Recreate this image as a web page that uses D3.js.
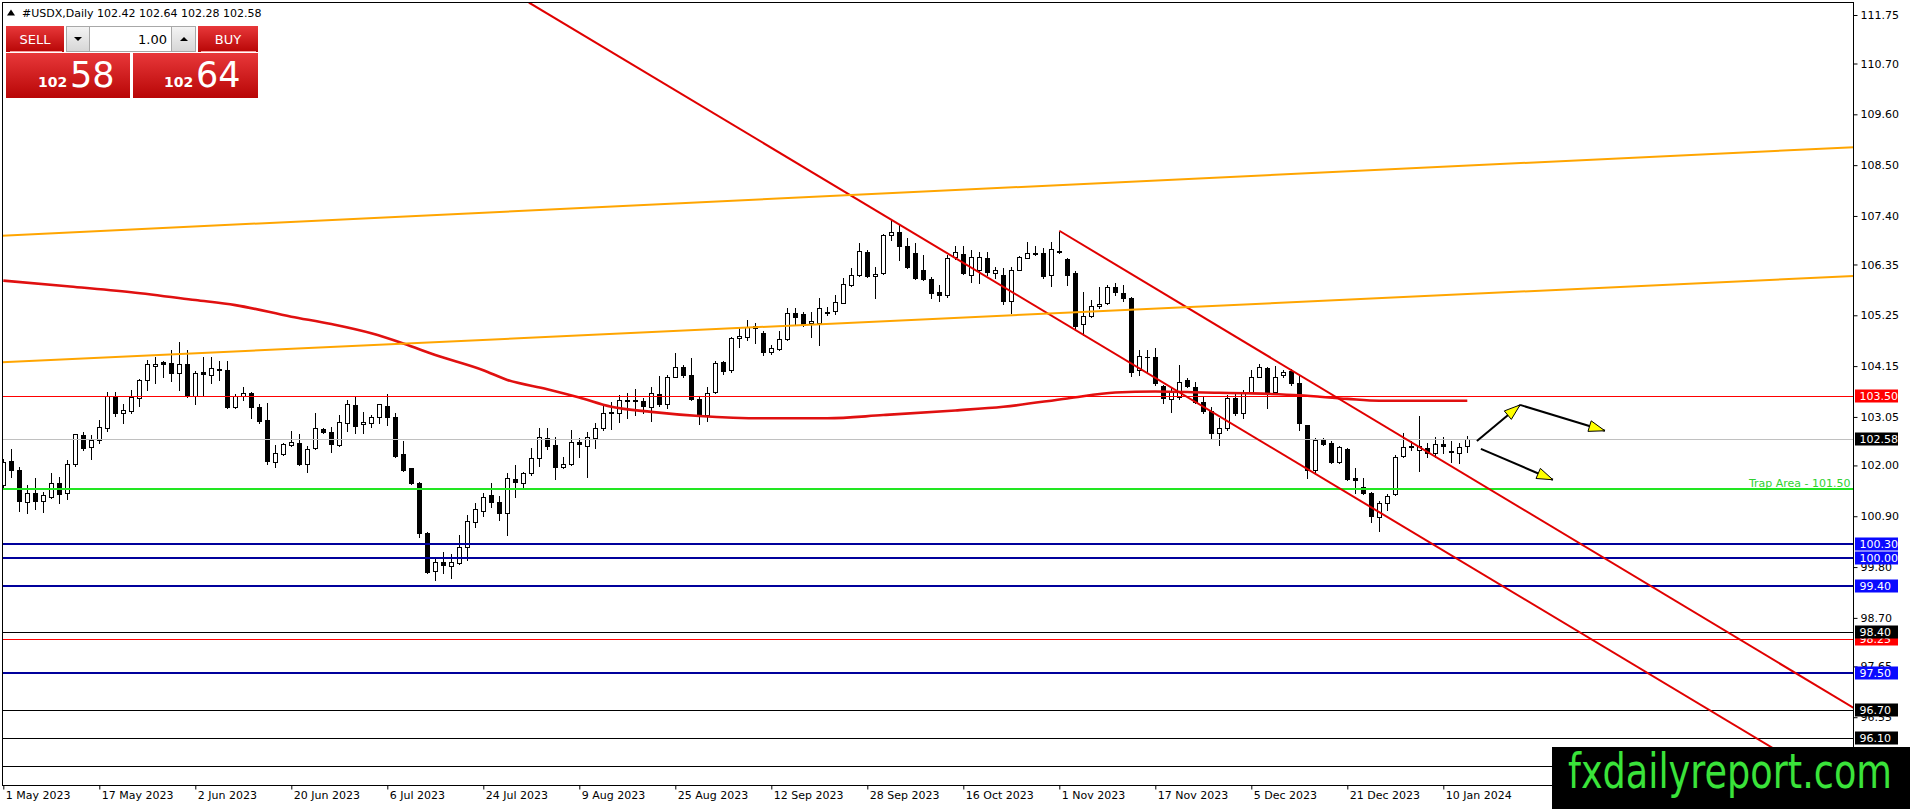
<!DOCTYPE html>
<html><head><meta charset="utf-8">
<script src="https://cdnjs.cloudflare.com/ajax/libs/d3/7.8.5/d3.min.js"></script>
<style>
html,body{margin:0;padding:0;background:#fff;overflow:hidden}
svg{display:block}
text{font-family:"DejaVu Sans",sans-serif}
</style></head><body>
<svg id="chart" width="1910" height="809"></svg>
<script>
// ---------------- DATA ----------------
const symbolTitle = "#USDX,Daily";
const lastQuote = [102.42, 102.64, 102.28, 102.58];
const lotSize = "1.00";
const bidParts = ["102", "58"];
const askParts = ["102", "64"];
const firstDate = "2023-05-01";
const closedDays = ["2023-12-25", "2024-01-01"];

const opens = [101.58,102.10,101.90,101.20,101.41,101.22,101.32,101.63,101.40,102.03,102.66,102.39,102.56,102.80,103.50,103.14,103.18,103.47,103.85,104.16,
104.24,104.22,104.01,104.19,103.51,104.03,103.96,104.09,104.07,103.27,103.50,103.57,103.26,102.98,102.08,102.24,102.44,102.48,102.04,102.37,
102.78,102.73,102.44,102.92,103.31,102.89,102.92,103.04,103.29,103.05,102.25,101.94,101.63,100.53,99.72,99.90,99.83,99.89,100.24,100.77,
101.02,101.36,101.21,100.96,101.71,101.63,101.83,102.17,102.60,102.44,101.96,102.03,102.50,102.43,102.59,102.80,103.13,103.14,103.39,103.41,
103.40,103.27,103.55,103.33,103.92,104.12,103.96,103.43,103.09,103.59,104.24,104.06,104.75,104.77,104.98,104.87,104.46,104.51,104.73,105.29,
105.28,105.08,105.08,105.29,105.35,105.52,105.91,106.12,106.63,106.10,106.16,106.99,107.05,106.74,106.59,106.22,106.04,105.75,105.69,106.52,
106.58,106.12,106.23,106.50,106.17,106.12,105.55,106.23,106.50,106.57,106.59,106.12,106.64,106.46,106.16,105.06,105.23,105.45,105.51,105.86,
105.74,105.62,104.07,104.34,104.34,103.71,103.44,103.49,103.85,103.69,103.38,103.17,102.70,102.80,103.45,103.14,103.60,103.92,104.10,103.60,
103.96,104.05,103.78,102.88,101.90,102.57,102.48,102.08,102.35,101.72,101.54,101.41,100.89,101.18,101.38,102.20,102.40,102.34,102.37,102.26,
102.46,102.30,102.26,102.42];
const highs = [102.15,102.35,101.97,101.58,101.72,101.43,101.83,101.76,102.12,102.69,102.73,102.66,102.98,103.60,103.60,103.34,103.63,103.88,104.28,104.35,
104.27,104.50,104.68,104.50,104.05,104.35,104.35,104.25,104.25,103.55,103.70,103.60,103.34,103.36,102.44,102.49,102.74,102.67,102.41,103.13,
102.80,102.84,103.09,103.42,103.49,103.16,103.09,103.34,103.54,103.14,102.53,101.95,101.64,100.55,99.97,100.13,100.08,100.49,100.93,101.18,
101.41,101.63,101.34,101.83,102.01,101.86,102.37,102.80,102.82,102.62,102.19,102.77,102.59,102.73,102.91,103.34,103.38,103.52,103.56,103.65,
103.45,103.70,103.94,103.96,104.43,104.17,104.32,103.49,103.69,104.27,104.25,104.77,104.97,105.15,105.08,104.92,104.61,104.90,105.40,105.40,
105.33,105.33,105.62,105.44,105.69,106.05,106.27,106.82,106.66,106.30,107.02,107.31,107.21,106.92,106.81,106.56,106.07,105.91,106.56,106.74,
106.74,106.66,106.61,106.63,106.30,106.27,106.30,106.53,106.84,106.74,106.70,106.84,107.06,106.48,106.20,105.76,105.58,105.87,105.91,105.94,
105.91,105.65,104.50,104.50,104.54,103.74,103.69,104.17,103.89,103.81,103.49,103.27,103.02,103.52,103.60,103.63,104.07,104.20,104.14,104.15,
104.07,104.08,103.96,102.88,102.59,102.59,102.52,102.42,102.37,101.94,101.72,101.43,101.22,101.38,102.23,102.70,102.52,103.06,102.49,102.61,
102.61,102.52,102.48,102.64];
const lows = [101.54,101.76,101.02,100.98,101.05,101.00,101.29,101.18,101.27,101.99,102.33,102.15,102.49,102.75,103.07,102.91,103.13,103.29,103.63,103.79,
103.92,103.83,103.63,103.49,103.33,103.52,103.78,103.85,103.24,103.24,103.42,103.02,102.91,102.03,101.96,102.23,102.41,102.01,101.86,102.35,
102.71,102.28,102.43,102.75,102.71,102.71,102.84,102.91,102.87,102.19,101.88,101.60,100.46,99.68,99.52,99.68,99.56,99.86,99.95,100.67,
100.90,101.11,100.82,100.49,101.32,101.50,101.79,101.99,102.35,101.70,101.94,102.01,102.19,101.74,102.37,102.77,102.78,102.95,103.02,103.09,
103.13,102.97,103.29,103.24,103.91,103.91,103.42,102.90,102.97,103.57,103.98,104.03,104.57,104.72,104.64,104.38,104.41,104.49,104.72,105.06,
105.02,104.77,104.61,105.26,105.28,105.51,105.88,106.10,106.07,105.62,106.14,106.87,106.45,106.27,106.03,106.01,105.62,105.55,105.65,106.46,
106.14,105.98,105.94,106.12,106.05,105.50,105.31,106.22,106.48,106.56,106.05,105.88,106.59,105.91,104.93,104.82,105.22,105.40,105.50,105.69,
105.55,103.94,103.96,104.03,103.74,103.35,103.15,103.43,103.69,103.35,103.13,102.57,102.44,102.77,103.09,103.02,103.56,103.91,103.24,103.56,
103.92,103.74,102.77,101.72,101.83,102.44,102.05,102.05,101.69,101.40,101.38,100.78,100.57,101.04,101.36,102.19,102.34,101.87,102.19,102.19,
102.26,102.08,102.05,102.28];
const closes = [102.07,101.90,101.22,101.40,101.24,101.36,101.61,101.38,102.04,102.67,102.38,102.56,102.84,103.50,103.14,103.21,103.49,103.86,104.19,104.19,
104.20,104.01,104.19,103.50,103.99,103.98,104.10,104.07,103.27,103.51,103.57,103.26,102.97,102.10,102.26,102.46,102.50,102.04,102.35,102.82,
102.73,102.46,102.95,103.33,102.86,102.93,103.05,103.32,103.05,102.20,101.90,101.61,100.54,99.70,99.92,99.84,99.90,100.23,100.80,101.05,
101.32,101.21,100.98,101.72,101.65,101.83,102.17,102.62,102.43,101.96,102.03,102.50,102.46,102.62,102.82,103.13,103.16,103.42,103.41,103.40,
103.29,103.56,103.34,103.92,104.14,103.96,103.43,103.11,103.57,104.21,104.05,104.75,104.80,105.00,105.02,104.46,104.54,104.73,105.29,105.22,
105.04,105.13,105.40,105.33,105.53,105.92,106.12,106.65,106.10,106.14,106.99,107.05,106.75,106.30,106.05,106.04,105.73,105.69,106.48,106.63,
106.16,106.52,106.52,106.19,106.23,105.55,106.23,106.52,106.59,106.59,106.10,106.68,106.61,106.12,105.02,105.24,105.46,105.50,105.86,105.76,
105.62,104.03,104.36,104.35,103.78,103.45,103.58,103.81,103.71,103.38,103.17,102.70,102.82,103.47,103.14,103.58,103.91,104.14,103.60,103.92,
104.03,103.78,102.91,101.90,102.55,102.46,102.08,102.39,101.70,101.69,101.41,100.91,101.18,101.34,102.19,102.39,102.41,102.41,102.26,102.46,
102.41,102.31,102.39,102.58];

// moving average read at these bar numbers
const maBars   = [0, 8, 16, 24, 29, 36, 41, 46, 50, 54, 60, 63, 68, 72, 76, 81, 87, 95, 103, 110, 119, 125, 133, 139, 144, 150, 156, 162, 168, 172, 183];
const maValues = [106.00,105.88,105.75,105.58,105.47,105.22,105.06,104.86,104.64,104.39,104.06,103.85,103.65,103.47,103.27,103.16,103.07,103.02,103.02,103.09,103.19,103.27,103.45,103.58,103.60,103.58,103.56,103.52,103.44,103.40,103.40];

const dateTickLabels = ["1 May 2023","17 May 2023","2 Jun 2023","20 Jun 2023","6 Jul 2023","24 Jul 2023","9 Aug 2023","25 Aug 2023",
  "12 Sep 2023","28 Sep 2023","16 Oct 2023","1 Nov 2023","17 Nov 2023","5 Dec 2023","21 Dec 2023","10 Jan 2024"];
const priceTicks = [111.75,110.70,109.60,108.50,107.40,106.35,105.25,104.15,103.05,102.00,100.90,99.80,98.70,97.65,96.55];

// horizontal levels
const levelPrices = [103.50, 102.58, 101.50, 100.30, 100.00, 99.40, 98.25, 98.40, 97.50, 96.70, 96.10, 95.50];
const levelKinds  = ["red","current","trap","blue","blue","blue","red","black","blue","black","black","plain"];
const trapLabel = "Trap Area - 101.50";

// trend lines: [bar, price] -> [bar, price]
const trendKinds = ["channel","channel","fan","fan"];
const trendStart = [[132, 107.08], [65.7, 112.02], [-0.4, 106.97], [-0.4, 104.23]];
const trendEnd   = [[231.3, 96.75], [235, 94.45], [231.3, 108.89], [231.3, 106.10]];

// arrows: [bar, price] -> [bar, price]
const arrowStart = [[184.2, 102.53], [189.6, 103.31], [184.7, 102.36]];
const arrowEnd   = [[189.6, 103.31], [200.2, 102.75], [193.7, 101.69]];

const watermark = "fxdailyreport.com";

// ---------------- BUILD ----------------
const W = 1910, H = 809;
const PL = 2.5, PT = 2.5, PR = 1853.5, PB = 785.5;
const N = opens.length;

// trading dates (weekdays minus closed days)
const fmtKey = d3.timeFormat("%Y-%m-%d");
const dates = [];
{
  let d = d3.timeParse("%Y-%m-%d")(firstDate);
  while (dates.length < N) {
    const wd = d.getDay();
    if (wd !== 0 && wd !== 6 && !closedDays.includes(fmtKey(d))) dates.push(fmtKey(d));
    d = d3.timeDay.offset(d, 1);
  }
}
const parseTick = d3.timeParse("%d %b %Y");
const tickIdx = dateTickLabels.map(s => dates.indexOf(fmtKey(parseTick(s))));

const barStep = 8;
const x = d3.scaleLinear().domain([0, N - 1]).range([3.3, 3.3 + barStep * (N - 1)]);
const y = d3.scaleLinear().domain([96.10, 111.75]).range([738, 15]);

const svg = d3.select("#chart");
const defs = svg.append("defs");
defs.append("clipPath").attr("id", "plotClip").append("rect")
  .attr("x", PL).attr("y", PT).attr("width", PR - PL).attr("height", PB - PT);
const gradR = defs.append("linearGradient").attr("id", "redGrad").attr("x1", 0).attr("y1", 0).attr("x2", 0).attr("y2", 1);
gradR.append("stop").attr("offset", "0%").attr("stop-color", "#e8383a");
gradR.append("stop").attr("offset", "100%").attr("stop-color", "#b80606");
const gradG = defs.append("linearGradient").attr("id", "grayGrad").attr("x1", 0).attr("y1", 0).attr("x2", 0).attr("y2", 1);
gradG.append("stop").attr("offset", "0%").attr("stop-color", "#f4f4f4");
gradG.append("stop").attr("offset", "100%").attr("stop-color", "#d6d6d6");

svg.append("rect").attr("width", W).attr("height", H).attr("fill", "#fff");

const plot = svg.append("g").attr("clip-path", "url(#plotClip)");

// candles
const candles = d3.range(N).map(i => ({ i, o: opens[i], h: highs[i], l: lows[i], c: closes[i] }));
const cx = d => Math.round(x(d.i));
plot.append("g").selectAll("line").data(candles).join("line")
  .attr("x1", d => cx(d) + 0.5).attr("x2", d => cx(d) + 0.5)
  .attr("y1", d => Math.round(y(d.h))).attr("y2", d => Math.round(y(d.l)) + 1)
  .attr("stroke", "#000").attr("stroke-width", 1);
plot.append("g").selectAll("rect").data(candles).join("rect")
  .attr("x", d => cx(d) - 1.5).attr("width", 4)
  .attr("y", d => Math.round(y(Math.max(d.o, d.c))) + 0.5)
  .attr("height", d => Math.max(0.01, Math.round(y(Math.min(d.o, d.c))) - Math.round(y(Math.max(d.o, d.c)))))
  .attr("fill", d => d.c >= d.o ? "#fff" : "#000")
  .attr("stroke", "#000").attr("stroke-width", 1);

// moving average
const maPts = maBars.map((b, k) => [b, maValues[k]]);
plot.append("path").datum(maPts)
  .attr("d", d3.line().x(d => x(d[0])).y(d => y(d[1])).curve(d3.curveMonotoneX))
  .attr("fill", "none").attr("stroke", "#e01010").attr("stroke-width", 2.6);

// horizontal levels
const levelStyle = {
  red:     { stroke: "#ff0000", w: 1, box: "#ff0000" },
  current: { stroke: "#c0c0c0", w: 1, box: "#000000" },
  trap:    { stroke: "#22e622", w: 2, box: null },
  blue:    { stroke: "#00009c", w: 2, box: "#0a0aff" },
  black:   { stroke: "#000000", w: 1, box: "#000000" },
  plain:   { stroke: "#000000", w: 1, box: null }
};
const levels = levelPrices.map((p, k) => ({ p, kind: levelKinds[k] }));
plot.append("g").selectAll("line").data(levels).join("line")
  .attr("x1", PL).attr("x2", PR)
  .attr("y1", d => { const v = Math.round(y(d.p)); return levelStyle[d.kind].w === 1 ? v + 0.5 : v; })
  .attr("y2", d => { const v = Math.round(y(d.p)); return levelStyle[d.kind].w === 1 ? v + 0.5 : v; })
  .attr("stroke", d => levelStyle[d.kind].stroke)
  .attr("stroke-width", d => levelStyle[d.kind].w);

// trap label
plot.append("text").attr("x", PR - 3).attr("y", Math.round(y(levelPrices[levelKinds.indexOf("trap")])) - 2)
  .attr("text-anchor", "end").attr("font-size", 11).attr("fill", "#30d030").text(trapLabel);

// trend lines
const trendStyle = { channel: { stroke: "#e00000", w: 2 }, fan: { stroke: "#ffa500", w: 2 } };
plot.append("g").selectAll("line").data(trendKinds.map((k, i) => ({ k, s: trendStart[i], e: trendEnd[i] }))).join("line")
  .attr("x1", d => x(d.s[0])).attr("y1", d => y(d.s[1]))
  .attr("x2", d => x(d.e[0])).attr("y2", d => y(d.e[1]))
  .attr("stroke", d => trendStyle[d.k].stroke).attr("stroke-width", d => trendStyle[d.k].w);

// arrows
const ga = plot.append("g");
arrowStart.forEach((s, k) => {
  const e = arrowEnd[k];
  const x1 = x(s[0]), y1 = y(s[1]), x2 = x(e[0]), y2 = y(e[1]);
  ga.append("line").attr("x1", x1).attr("y1", y1).attr("x2", x2).attr("y2", y2)
    .attr("stroke", "#000").attr("stroke-width", 2);
  const ang = Math.atan2(y2 - y1, x2 - x1);
  const L = 16, hw = 5.5;
  const bx = x2 - L * Math.cos(ang), by = y2 - L * Math.sin(ang);
  const px = -Math.sin(ang) * hw, py = Math.cos(ang) * hw;
  ga.append("path")
    .attr("d", `M${x2},${y2}L${bx + px},${by + py}L${bx - px},${by - py}Z`)
    .attr("fill", "#ffff00").attr("stroke", "#000").attr("stroke-width", 1).attr("stroke-linejoin", "miter");
});

// frame
svg.append("rect").attr("x", PL).attr("y", PT).attr("width", PR - PL).attr("height", PB - PT)
  .attr("fill", "none").attr("stroke", "#000").attr("stroke-width", 1);

// price axis
const yAxis = d3.axisRight(y).tickValues(priceTicks).tickSize(4).tickSizeOuter(0).tickPadding(3)
  .tickFormat(d3.format(".2f"));
const gy = svg.append("g").attr("transform", `translate(${PR},0)`).call(yAxis);
gy.select(".domain").remove();
gy.selectAll(".tick line").attr("stroke", "#000");
gy.selectAll(".tick text").attr("font-size", 11).attr("fill", "#000").attr("font-family", "DejaVu Sans");

// level boxes on axis
const boxes = levels.filter(d => levelStyle[d.kind].box);
const gb = svg.append("g");
boxes.forEach(d => {
  const yy = Math.round(y(d.p));
  gb.append("rect").attr("x", PR + 1.5).attr("y", yy - 6.5).attr("width", 43).attr("height", 13)
    .attr("fill", levelStyle[d.kind].box);
  gb.append("text").attr("x", PR + 6).attr("y", yy + 4).attr("font-size", 11).attr("fill", "#fff")
    .text(d.p.toFixed(2));
});

// date axis
const xAxis = d3.axisBottom(x).tickValues(tickIdx).tickSize(4).tickSizeOuter(0)
  .tickFormat((d, i) => dateTickLabels[i]);
const gx = svg.append("g").attr("transform", `translate(0,${PB})`).call(xAxis);
gx.select(".domain").remove();
gx.selectAll(".tick line").attr("stroke", "#000");
gx.selectAll(".tick text").attr("font-size", 11).attr("fill", "#000").attr("font-family", "DejaVu Sans")
  .attr("text-anchor", "start").attr("x", 2).attr("y", 6).attr("dy", "0.71em");

// header
svg.append("path").attr("d", "M7,15.5L11,9.5L15,15.5Z").attr("fill", "#000");
svg.append("text").attr("x", 22).attr("y", 17).attr("font-size", 11).attr("fill", "#000")
  .text(symbolTitle + " " + lastQuote.map(v => v.toFixed(2)).join(" "));

// one-click trading panel
const panel = svg.append("g");
panel.append("rect").attr("x", 6).attr("y", 26).attr("width", 58).attr("height", 26).attr("fill", "url(#redGrad)");
panel.append("line").attr("x1", 10).attr("x2", 62).attr("y1", 51.5).attr("y2", 51.5).attr("stroke", "#f6a0a0");
panel.append("text").attr("x", 35).attr("y", 44).attr("text-anchor", "middle").attr("font-size", 13).attr("fill", "#fff").text("SELL");
panel.append("rect").attr("x", 66.5).attr("y", 26.5).attr("width", 23).attr("height", 25).attr("fill", "url(#grayGrad)").attr("stroke", "#a8a8a8");
panel.append("path").attr("d", "M74,37L82,37L78,41Z").attr("fill", "#000");
panel.append("rect").attr("x", 89.5).attr("y", 26.5).attr("width", 82).attr("height", 25).attr("fill", "#fff").attr("stroke", "#a8a8a8");
panel.append("text").attr("x", 167).attr("y", 44).attr("text-anchor", "end").attr("font-size", 13).attr("fill", "#000").text(lotSize);
panel.append("rect").attr("x", 171.5).attr("y", 26.5).attr("width", 24).attr("height", 25).attr("fill", "url(#grayGrad)").attr("stroke", "#a8a8a8");
panel.append("path").attr("d", "M180,41L188,41L184,37Z").attr("fill", "#000");
panel.append("rect").attr("x", 198).attr("y", 26).attr("width", 60).attr("height", 26).attr("fill", "url(#redGrad)");
panel.append("line").attr("x1", 201).attr("x2", 256).attr("y1", 51.5).attr("y2", 51.5).attr("stroke", "#f6a0a0");
panel.append("text").attr("x", 228).attr("y", 44).attr("text-anchor", "middle").attr("font-size", 13).attr("fill", "#fff").text("BUY");
panel.append("rect").attr("x", 6).attr("y", 53).attr("width", 124).attr("height", 45).attr("fill", "url(#redGrad)");
panel.append("rect").attr("x", 133).attr("y", 53).attr("width", 125).attr("height", 45).attr("fill", "url(#redGrad)");
const bigTxt = (x0, parts) => {
  panel.append("text").attr("x", x0).attr("y", 87).attr("font-family", "Liberation Sans, Arial, sans-serif")
    .attr("font-weight", "bold").attr("font-size", 14).attr("fill", "#fff").text(parts[0]);
  panel.append("text").attr("x", x0 + 32).attr("y", 87).attr("font-family", "Liberation Sans, Arial, sans-serif")
    .attr("font-size", 35).attr("fill", "#fff").text(parts[1]);
};
bigTxt(38, bidParts);
bigTxt(164, askParts);

// watermark
svg.append("rect").attr("x", 1552).attr("y", 747).attr("width", W - 1552).attr("height", H - 747).attr("fill", "#000");
svg.append("text").attr("x", 1568).attr("y", 788).attr("font-family", "Liberation Sans, Arial, sans-serif")
  .attr("font-size", 48).attr("fill", "#3ae33a").attr("textLength", 324).attr("lengthAdjust", "spacingAndGlyphs")
  .text(watermark);
</script></body></html>
